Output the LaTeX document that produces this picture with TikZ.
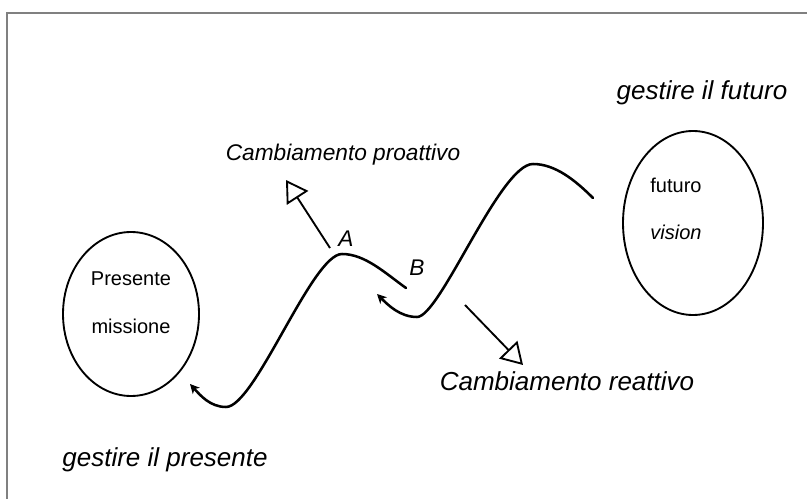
\documentclass[tikz,border=0pt]{standalone}
\usepackage{fontspec}
\setmainfont{Liberation Sans}
\usetikzlibrary{arrows.meta}

\begin{document}
\begin{tikzpicture}[x=0.75pt,y=0.75pt,yscale=-1,xscale=1,
  curva/.style={line width=1.9pt,line cap=round,-{Stealth[length=7pt,width=7pt,inset=2pt]}},
  freccia/.style={line width=1.4pt,-{Triangle[open,length=16pt,width=19pt,line width=1.4pt]}},
  grande/.style={font=\fontsize{19.5}{23}\selectfont\itshape,inner sep=0pt,anchor=base},
  medio/.style={font=\fontsize{17}{20}\selectfont\itshape,inner sep=0pt,anchor=base},
  interno/.style={font=\fontsize{15}{18}\selectfont,inner sep=0pt,anchor=base}]
\useasboundingbox (0,0) rectangle (807,499);

%Frame
\draw [color=gray,line width=0.9pt] (7,499) -- (7,13) -- (807,13) ;

%Ellipses
\draw [line width=1.4pt] (131,314) circle [x radius=68, y radius=82] ;
\draw [line width=1.4pt] (693,223) circle [x radius=70, y radius=92] ;

% Text Node
\node [interno] (presente) at (131,285) {Presente};
\node [interno] (missione) at (131,333) {missione};
% Text Node
\node [interno] (futuro) at (676,193) {futuro};
\node [interno,font=\fontsize{15}{18}\selectfont\itshape] (vision) at (676,239) {vision};
% Text Node
\node [grande] (gfuturo) at (702,100) {gestire il futuro};
\node [grande] (gpresente) at (165,466) {gestire il presente};
\node [grande] (reattivo) at (567,390) {Cambiamento reattivo};
\node [medio] (proattivo) at (343,161) {Cambiamento proattivo};
\node [medio] (pA) at (346,247) {A};
\node [medio] (pB) at (417,275) {B};

%Curves
\coordinate (a1) at (406,288);
\coordinate (a2) at (190,384);
\coordinate (b1) at (593,198);
\coordinate (b2) at (377,294);
\draw [curva] (a1) .. controls (385,273) and (365,254) .. (342,254)
  .. controls (312,254) and (255,407) .. (226,407)
  .. controls (210,407) and (200,395) .. (a2) ;
\draw [curva] (b1) .. controls (575,180) and (555,164) .. (533,164)
  .. controls (500,164) and (440,317) .. (417,317)
  .. controls (400,317) and (388,305) .. (b2) ;

%Arrows
\coordinate (p1) at (330,248);
\coordinate (p2) at (286,180);
\coordinate (r1) at (465,305);
\coordinate (r2) at (523,365);
\draw [freccia] (p1) -- (p2) ;
\draw [freccia] (r1) -- (r2) ;

\end{tikzpicture}
\end{document}
